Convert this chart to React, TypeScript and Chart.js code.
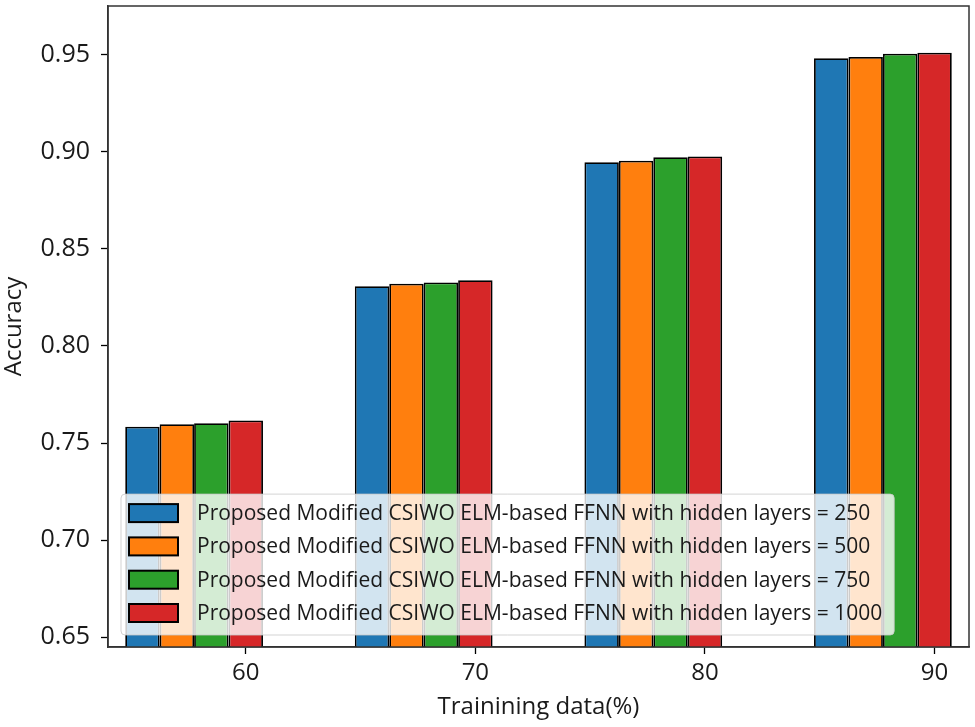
import { useEffect, useRef } from "react";
import Chart from "chart.js/auto";

// training data (%) groups
const categories = [60, 70, 80, 90];
const xTicks = [60, 70, 80, 90];
const yTicks = [0.65, 0.7, 0.75, 0.8, 0.85, 0.9, 0.95];

const seriesLabels = [
  "Proposed Modified CSIWO ELM-based FFNN with hidden layers = 250",
  "Proposed Modified CSIWO ELM-based FFNN with hidden layers = 500",
  "Proposed Modified CSIWO ELM-based FFNN with hidden layers = 750",
  "Proposed Modified CSIWO ELM-based FFNN with hidden layers = 1000",
];
const hidden250 = [0.7584, 0.8307, 0.8946, 0.9481];
const hidden500 = [0.7597, 0.832, 0.8953, 0.9488];
const hidden750 = [0.7602, 0.8327, 0.8971, 0.9504];
const hidden1000 = [0.7616, 0.8338, 0.8975, 0.9509];

const colors = ["#1f77b4", "#ff7f0e", "#2ca02c", "#d62728"];
const FONT = "'Open Sans', 'DejaVu Sans', sans-serif";
const TEXT = "#1a1a1a";

// bars are 1.5 units wide, the last bar of each group sits on the tick
const barUnits = 1.5;
const groupShift = 1.5 * barUnits;

const framePlugin = {
  id: "frame",
  afterDraw(chart: any) {
    const { ctx, chartArea: a } = chart;
    ctx.save();
    ctx.strokeStyle = "#333";
    ctx.lineWidth = 1.5;
    ctx.strokeRect(a.left, a.top, a.right - a.left, a.bottom - a.top);
    ctx.restore();
  },
};

const legendPlugin = {
  id: "insideLegend",
  afterDraw(chart: any) {
    const { ctx, chartArea: a } = chart;
    const sets = chart.data.datasets;
    const rowH = 33.3;
    const swW = 49;
    const swH = 18;
    ctx.save();
    ctx.font = `21px ${FONT}`;
    const textW = Math.max(...sets.map((d: any) => ctx.measureText(d.label).width));
    const x0 = a.left + 13;
    const h = rowH * (sets.length - 1) + 41;
    const y0 = a.bottom - 12 - h;
    const w = 8 + swW + 19 + textW + 12;

    ctx.beginPath();
    ctx.roundRect(x0, y0, w, h, 4);
    ctx.fillStyle = "rgba(255,255,255,0.8)";
    ctx.fill();
    ctx.strokeStyle = "rgba(200,200,200,0.8)";
    ctx.lineWidth = 1;
    ctx.stroke();

    sets.forEach((d: any, i: number) => {
      const cy = y0 + 19 + i * rowH;
      ctx.fillStyle = d.backgroundColor;
      ctx.fillRect(x0 + 8, cy - swH / 2, swW, swH);
      ctx.strokeStyle = "#000";
      ctx.lineWidth = 2;
      ctx.strokeRect(x0 + 8, cy - swH / 2, swW, swH);
      ctx.fillStyle = TEXT;
      ctx.textBaseline = "middle";
      ctx.textAlign = "left";
      ctx.fillText(d.label, x0 + 8 + swW + 19, cy + 1);
    });
    ctx.restore();
  },
};

const tickGrid = {
  display: true,
  offset: false,
  drawOnChartArea: false,
  drawTicks: true,
  tickLength: 7,
  tickWidth: 1.3,
  tickColor: "#000",
};

const App = () => {
  const chartRef = useRef<HTMLCanvasElement | null>(null);
  const chartInstance = useRef<Chart | null>(null);

  useEffect(() => {
    document.body.style.margin = "0";
    if (!chartRef.current) return;
    if (chartInstance.current) chartInstance.current.destroy();

    const series = [hidden250, hidden500, hidden750, hidden1000];
    const ctx = chartRef.current.getContext("2d");
    if (!ctx) return;

    chartInstance.current = new Chart(ctx, {
      type: "bar",
      data: {
        datasets: series.map((vals, i) => ({
          label: seriesLabels[i],
          data: categories.map((c, j) => ({ x: c - groupShift, y: vals[j] })),
          backgroundColor: colors[i],
          borderColor: "#000",
          borderWidth: 1.8,
          categoryPercentage: (4 * barUnits) / 10,
          barPercentage: 1,
        })),
      },
      options: {
        responsive: false,
        animation: false,
        devicePixelRatio: 1,
        layout: { padding: { top: 6, right: 6, left: 0, bottom: 0 } },
        plugins: {
          legend: { display: false },
          tooltip: { enabled: false },
        },
        scales: {
          x: {
            type: "linear",
            offset: false,
            min: 54,
            max: 91.5,
            afterBuildTicks: (scale: any) => {
              scale.ticks = xTicks.map((v) => ({ value: v }));
            },
            afterFit: (scale: any) => {
              scale.height = 80;
              scale.paddingLeft = 0;
              scale.paddingRight = 0;
            },
            grid: tickGrid,
            border: { display: true, color: "#333", width: 1.5 },
            ticks: {
              color: TEXT,
              font: { family: FONT, size: 24 },
              padding: 5,
              callback: (v: any) => String(v),
            },
            title: {
              display: true,
              text: "Trainining data(%)",
              color: TEXT,
              font: { family: FONT, size: 24 },
              padding: { top: 0, bottom: 5 },
            },
          },
          y: {
            min: 0.645,
            max: 0.975,
            afterBuildTicks: (scale: any) => {
              scale.ticks = yTicks.map((v) => ({ value: v }));
            },
            afterFit: (scale: any) => {
              scale.width = 108;
              scale.paddingTop = 0;
              scale.paddingBottom = 0;
            },
            grid: tickGrid,
            border: { display: true, color: "#333", width: 1.5 },
            ticks: {
              color: TEXT,
              font: { family: FONT, size: 25 },
              padding: 11,
              callback: (v: any) => Number(v).toFixed(2),
            },
            title: {
              display: true,
              text: "Accuracy",
              color: TEXT,
              font: { family: FONT, size: 24 },
              padding: { top: 0, bottom: 0 },
            },
          },
        },
      },
      plugins: [framePlugin, legendPlugin],
    });

    return () => {
      if (chartInstance.current) {
        chartInstance.current.destroy();
        chartInstance.current = null;
      }
    };
  }, []);

  return (
    <div style={{ width: 975, height: 727, background: "#fff" }}>
      <canvas ref={chartRef} width={975} height={727} />
    </div>
  );
};

export default App;
